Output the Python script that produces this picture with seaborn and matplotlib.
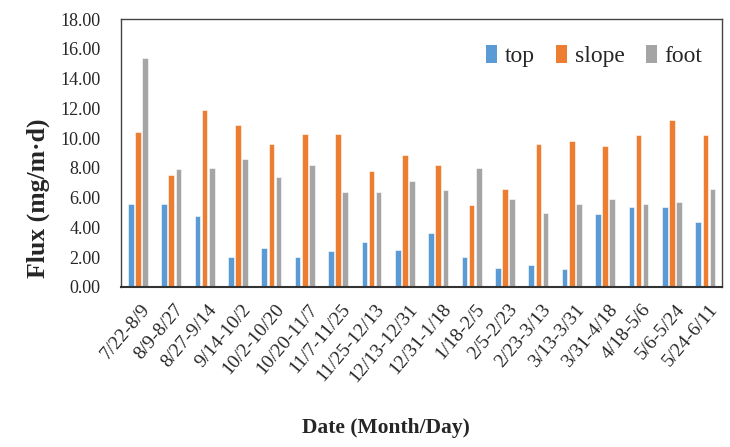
import numpy as np
import pandas as pd
import matplotlib
matplotlib.use("Agg")
import matplotlib.pyplot as plt
import matplotlib.transforms as mtransforms
import seaborn as sns

# ==============================
# Data
# ==============================

periods = ["7/22-8/9", "8/9-8/27", "8/27-9/14", "9/14-10/2", "10/2-10/20",
           "10/20-11/7", "11/7-11/25", "11/25-12/13", "12/13-12/31", "12/31-1/18",
           "1/18-2/5", "2/5-2/23", "2/23-3/13", "3/13-3/31", "3/31-4/18",
           "4/18-5/6", "5/6-5/24", "5/24-6/11"]

top = [5.6, 5.6, 4.8, 2.0, 2.6, 2.0, 2.4, 3.0, 2.5, 3.6,
       2.0, 1.3, 1.5, 1.2, 4.9, 5.4, 5.4, 4.4]
slope = [10.4, 7.5, 11.9, 10.9, 9.6, 10.3, 10.3, 7.8, 8.9, 8.2,
         5.5, 6.6, 9.6, 9.8, 9.5, 10.2, 11.2, 10.2]
foot = [15.4, 7.9, 8.0, 8.6, 7.4, 8.2, 6.4, 6.4, 7.1, 6.5,
        8.0, 5.9, 5.0, 5.6, 5.9, 5.6, 5.7, 6.6]

positions = ["top", "slope", "foot"]
colors = ["#5B9BD5", "#ED7D31", "#A5A5A5"]

df = pd.DataFrame({"period": periods, "top": top, "slope": slope, "foot": foot})
long_df = df.melt(id_vars="period", var_name="position", value_name="flux")

# ==============================
# Plot
# ==============================

sns.set_style("white")
plt.rcParams["font.family"] = ["Liberation Serif", "DejaVu Serif"]

fig = plt.figure(figsize=(7.3, 4.47), dpi=100)
ax = fig.add_axes([0.166, 0.358, 0.823, 0.599])

sns.barplot(data=long_df, x="period", y="flux", hue="position",
            hue_order=positions, palette=colors, saturation=1,
            width=0.64, gap=0.22, edgecolor="white", linewidth=0.4, ax=ax)

ax.set_ylim(0, 18)
ax.set_yticks(np.arange(0, 18.1, 2))
ax.set_yticklabels([f"{v:.2f}" for v in np.arange(0, 18.1, 2)], fontsize=13)
ax.set_xlim(-0.5, len(periods) - 0.5)
ax.set_xticks(range(len(periods)))
ax.set_xticklabels(periods, rotation=50, ha="right", rotation_mode="anchor",
                   fontsize=14)
ax.tick_params(axis="y", length=0, pad=15)
ax.tick_params(axis="x", length=0, pad=10)

# nudge rotated date labels to the right, like the reference
shift = mtransforms.ScaledTranslation(3 / 100, 0, fig.dpi_scale_trans)
for lbl in ax.get_xticklabels():
    lbl.set_transform(lbl.get_transform() + shift)

for side in ["top", "right", "left"]:
    ax.spines[side].set_color("#444444")
    ax.spines[side].set_linewidth(1.0)
ax.spines["bottom"].set_color("#333333")
ax.spines["bottom"].set_linewidth(1.5)

ax.set_xlabel("Date (Month/Day)", fontsize=15.5, fontweight="bold")
ax.xaxis.set_label_coords(0.44, -0.49)
ax.set_ylabel("Flux (mg/m·d)", fontsize=18.5, fontweight="bold")
ax.yaxis.set_label_coords(-0.118, 0.33)

leg = ax.legend(ncol=3, loc="upper right", bbox_to_anchor=(0.995, 0.965), frameon=False,
                fontsize=17, handlelength=0.5, handleheight=0.8, handletextpad=0.3,
                columnspacing=0.9, borderaxespad=0.3)
for h in leg.legend_handles:
    h.set_edgecolor("none")

fig.savefig("out.png", dpi=100)
plt.close(fig)
